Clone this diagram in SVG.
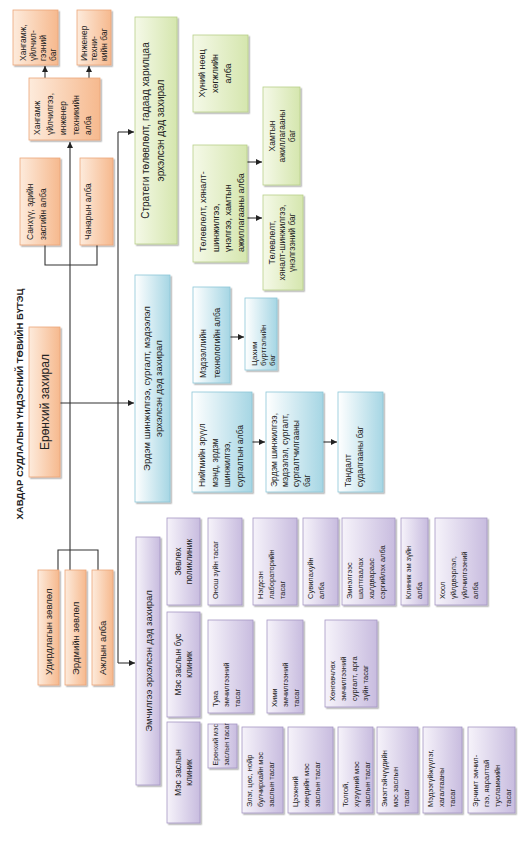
<svg xmlns="http://www.w3.org/2000/svg" width="525" height="842" viewBox="0 0 525 842">
<defs>
<linearGradient id="go" x1="0" y1="0" x2="1" y2="0"><stop offset="0" stop-color="#fdebdc"/><stop offset="1" stop-color="#f6b98e"/></linearGradient>
<linearGradient id="gg" x1="0" y1="0" x2="1" y2="0"><stop offset="0" stop-color="#f5f9e8"/><stop offset="1" stop-color="#d5e6ae"/></linearGradient>
<linearGradient id="gb" x1="0" y1="0" x2="1" y2="0"><stop offset="0" stop-color="#ffffff"/><stop offset="1" stop-color="#a6d6e4"/></linearGradient>
<linearGradient id="gp" x1="0" y1="0" x2="1" y2="0"><stop offset="0" stop-color="#f6f3fa"/><stop offset="1" stop-color="#c8bcdf"/></linearGradient>
<filter id="sh" x="-20%" y="-10%" width="140%" height="130%"><feDropShadow dx="1.5" dy="1.5" stdDeviation="0.7" flood-color="#000" flood-opacity="0.3"/></filter>
<marker id="ah" viewBox="0 0 6 6" markerWidth="6" markerHeight="6" refX="6" refY="3" orient="auto" markerUnits="userSpaceOnUse"><path d="M0,0 L6,3 L0,6 z" fill="#222"/></marker>
</defs>
<style>
text{font-family:"Liberation Sans",Arial,sans-serif;fill:#222}
.o rect{fill:url(#go);stroke:#eba579;stroke-width:0.8;filter:url(#sh)}
.g rect{fill:url(#gg);stroke:#b8cf89;stroke-width:0.8;filter:url(#sh)}
.b rect{fill:url(#gb);stroke:#8cc5d7;stroke-width:0.8;filter:url(#sh)}
.p rect{fill:url(#gp);stroke:#a597c4;stroke-width:0.8;filter:url(#sh)}
.f7{font-size:7px}.f75{font-size:7.5px}.f8{font-size:8px}.f85{font-size:8.5px}.f9{font-size:9px}.f95{font-size:9.5px}.f10{font-size:10px}.f12{font-size:12px}
.m{text-anchor:middle}
.c line,.c path{stroke:#333;stroke-width:1.1;fill:none}
.a{marker-end:url(#ah)}
</style>
<rect width="525" height="842" fill="#fff"/>
<text id="title" transform="translate(23,404) rotate(-90)" class="m" style="font-size:9.5px;font-weight:bold">ХАВДАР СУДЛАЛЫН ҮНДЭСНИЙ ТӨВИЙН БҮТЭЦ</text>

<g id="connectors" class="c">
<path d="M70,570 V142" class="a"/>
<path d="M60,403 H134" class="a"/>
<path d="M118,132 V663"/>
<path d="M118,132 H134" class="a"/>
<path d="M118,663 H135" class="a"/>
<path d="M45,245 V265 H97 V245"/>
<path d="M58,570 V550 H98 V570"/>
<path d="M45,78 V66" class="a"/>
<path d="M89,78 V66" class="a"/>
<path d="M247,162 H262" class="a"/>
<path d="M247,218 H262" class="a"/>
<path d="M230,337 H244" class="a"/>
<path d="M252,442 H265" class="a"/>
<path d="M323,442 H337" class="a"/>
</g>

<g id="n-supply-team" class="o"><rect x="13" y="10" width="45" height="55"/><text transform="translate(13,65) rotate(-90)" class="f85"><tspan x="4" y="13">Хангамж,</tspan><tspan x="4" y="23">үйлчил-</tspan><tspan x="4" y="33">гээний</tspan><tspan x="4" y="43">баг</tspan></text></g>
<g id="n-eng-team" class="o"><rect x="77" y="10" width="34" height="55"/><text transform="translate(77,65) rotate(-90)" class="f85"><tspan x="4" y="10">Инженер</tspan><tspan x="4" y="20">техни-</tspan><tspan x="4" y="30">кийн баг</tspan></text></g>
<g id="n-supply-dept" class="o"><rect x="29" y="78" width="71" height="62"/><text transform="translate(29,140) rotate(-90)" class="f85"><tspan x="5" y="11">Хангамж</tspan><tspan x="5" y="24">үйлчилгээ,</tspan><tspan x="5" y="37">инженер</tspan><tspan x="5" y="49.5">техникийн</tspan><tspan x="5" y="62">алба</tspan></text></g>
<g id="n-finance" class="o"><rect x="20" y="158" width="40" height="87"/><text transform="translate(20,245) rotate(-90)" class="f85"><tspan x="5" y="13">Санхүү, эдийн</tspan><tspan x="5" y="26">засгийн  алба</tspan></text></g>
<g id="n-quality" class="o"><rect x="80" y="158" width="33" height="87"/><text transform="translate(80,245) rotate(-90)" class="f85"><tspan x="5" y="11">Чанарын алба</tspan></text></g>
<g id="n-general-director" class="o"><rect x="29" y="327" width="31" height="150"/><text transform="translate(29,477) rotate(-90)" class="f12 m"><tspan x="75" y="20">Ерөнхий захирал</tspan></text></g>
<g id="n-board" class="o"><rect x="38" y="570" width="21" height="115"/><text transform="translate(38,685) rotate(-90)" class="f95"><tspan x="10" y="14">Удирдлагын зөвлөл</tspan></text></g>
<g id="n-sci-council" class="o"><rect x="65" y="570" width="21" height="115"/><text transform="translate(65,685) rotate(-90)" class="f95"><tspan x="10" y="14">Эрдмийн зөвлөл</tspan></text></g>
<g id="n-office" class="o"><rect x="92" y="570" width="21" height="115"/><text transform="translate(92,685) rotate(-90)" class="f95"><tspan x="10" y="14">Ажлын алба</tspan></text></g>

<g id="n-strategy-deputy" class="g"><rect x="135" y="17" width="42" height="227"/><text transform="translate(135,244) rotate(-90)" class="f10 m"><tspan x="113.5" y="14">Стратеги төлөвлөлт, гадаад харилцаа</tspan><tspan x="113.5" y="28.5">эрхэлсэн дэд захирал</tspan></text></g>
<g id="n-hr" class="g"><rect x="193" y="35" width="55" height="77"/><text transform="translate(193,112) rotate(-90)" class="f9 m"><tspan x="38.5" y="12">Хүний нөөц</tspan><tspan x="38.5" y="25">хөгжлийн</tspan><tspan x="38.5" y="38">алба</tspan></text></g>
<g id="n-planning-dept" class="g"><rect x="193" y="145" width="54" height="117"/><text transform="translate(193,262) rotate(-90)" class="f9"><tspan x="10" y="13">Төлөвлөлт, хяналт-</tspan><tspan x="10" y="25.5">шинжилгээ,</tspan><tspan x="10" y="38">үнэлгээ, хамтын</tspan><tspan x="10" y="50.5">ажиллагааны  алба</tspan></text></g>
<g id="n-coop-team" class="g"><rect x="263" y="87" width="37" height="98"/><text transform="translate(263,185) rotate(-90)" class="f85 m"><tspan x="49" y="12">Хамтын</tspan><tspan x="49" y="22">ажиллагааны</tspan><tspan x="49" y="32">баг</tspan></text></g>
<g id="n-planning-team" class="g"><rect x="263" y="195" width="40" height="95"/><text transform="translate(263,290) rotate(-90)" class="f85 m"><tspan x="47.5" y="12">Төлөвлөлт,</tspan><tspan x="47.5" y="22">хяналт-шинжилгээ,</tspan><tspan x="47.5" y="32">үнэлгээний баг</tspan></text></g>

<g id="n-science-deputy" class="b"><rect x="135" y="275" width="35" height="227"/><text transform="translate(135,502) rotate(-90)" class="f95 m"><tspan x="113.5" y="15">Эрдэм шинжилгээ, сургалт, мэдээлэл</tspan><tspan x="113.5" y="26.5">эрхэлсэн дэд захирал</tspan></text></g>
<g id="n-it" class="b"><rect x="193" y="287" width="37" height="96"/><text transform="translate(193,383) rotate(-90)" class="f85"><tspan x="5" y="13">Мэдээллийн</tspan><tspan x="5" y="27">технологийн алба</tspan></text></g>
<g id="n-ereg" class="b"><rect x="245" y="298" width="32" height="72"/><text transform="translate(245,370) rotate(-90)" class="f8"><tspan x="4" y="12">Цахим</tspan><tspan x="4" y="21">бүртгэлийн</tspan><tspan x="4" y="30">баг</tspan></text></g>
<g id="n-public-health" class="b"><rect x="192" y="392" width="60" height="100"/><text transform="translate(192,492) rotate(-90)" class="f85"><tspan x="5" y="13">Нийгмийн эрүүл</tspan><tspan x="5" y="25.5">мэнд, эрдэм</tspan><tspan x="5" y="38">шинжилгээ,</tspan><tspan x="5" y="50.5">сургалтын  алба</tspan></text></g>
<g id="n-research-team" class="b"><rect x="266" y="392" width="57" height="100"/><text transform="translate(266,492) rotate(-90)" class="f85"><tspan x="5" y="11">Эрдэм шинжилгээ,</tspan><tspan x="5" y="22">мэдээлэл, сургалт,</tspan><tspan x="5" y="33">сургалтчилгааны</tspan><tspan x="5" y="44">баг</tspan></text></g>
<g id="n-surveillance" class="b"><rect x="338" y="392" width="45" height="100"/><text transform="translate(338,492) rotate(-90)" class="f85"><tspan x="5" y="13">Тандалт</tspan><tspan x="5" y="25">судалгааны баг</tspan></text></g>

<g id="n-treatment-deputy" class="p"><rect x="136" y="537" width="24" height="248"/><text transform="translate(136,785) rotate(-90)" class="f95 m"><tspan x="124" y="15.5">Эмчилгээ эрхэлсэн дэд захирал</tspan></text></g>
<g id="n-polyclinic" class="p"><rect x="167" y="518" width="33" height="87"/><text transform="translate(167,605) rotate(-90)" class="f85 m"><tspan x="43.5" y="14">Зөвлөх</tspan><tspan x="43.5" y="25">поликлиник</tspan></text></g>
<g id="n-nonsurg-clinic" class="p"><rect x="167" y="612" width="33" height="105"/><text transform="translate(167,717) rotate(-90)" class="f85 m"><tspan x="52.5" y="14">Мэс заслын бус</tspan><tspan x="52.5" y="25">клиник</tspan></text></g>
<g id="n-surg-clinic" class="p"><rect x="167" y="722" width="33" height="101"/><text transform="translate(167,823) rotate(-90)" class="f85 m"><tspan x="50.5" y="14">Мэс заслын</tspan><tspan x="50.5" y="25">клиник</tspan></text></g>

<g id="n-diagnostics" class="p"><rect x="208" y="518" width="34" height="87"/><text transform="translate(208,605) rotate(-90)" class="f75"><tspan x="6" y="10">Онош зүйн тасаг</tspan></text></g>
<g id="n-lab" class="p"><rect x="253" y="518" width="44" height="87"/><text transform="translate(253,605) rotate(-90)" class="f75"><tspan x="6" y="10">Нэгдсэн</tspan><tspan x="6" y="21">лабораторийн</tspan><tspan x="6" y="32">тасаг</tspan></text></g>
<g id="n-nursing" class="p"><rect x="303" y="518" width="35" height="87"/><text transform="translate(303,605) rotate(-90)" class="f75"><tspan x="6" y="10">Сувилахуйн</tspan><tspan x="6" y="21">алба</tspan></text></g>
<g id="n-infection" class="p"><rect x="342" y="518" width="53" height="87"/><text transform="translate(342,605) rotate(-90)" class="f75"><tspan x="6" y="10">Эмнэлгээс</tspan><tspan x="6" y="21">шалтгаалах</tspan><tspan x="6" y="32">халдвараас</tspan><tspan x="6" y="43">сэргийлэх алба</tspan></text></g>
<g id="n-pharmacy" class="p"><rect x="401" y="518" width="27" height="87"/><text transform="translate(401,605) rotate(-90)" class="f75"><tspan x="6" y="10">Клиник  эм зүйн</tspan><tspan x="6" y="21">алба</tspan></text></g>
<g id="n-food" class="p"><rect x="435" y="518" width="52" height="87"/><text transform="translate(435,605) rotate(-90)" class="f75"><tspan x="6" y="10">Хоол</tspan><tspan x="6" y="21">үйлдвэрлэл,</tspan><tspan x="6" y="32">үйлчилгээний</tspan><tspan x="6" y="43">алба</tspan></text></g>
<g id="n-radiation" class="p"><rect x="208" y="620" width="45" height="93"/><text transform="translate(208,713) rotate(-90)" class="f75"><tspan x="6" y="10">Туяа</tspan><tspan x="6" y="21">эмчилгээний</tspan><tspan x="6" y="32">тасаг</tspan></text></g>
<g id="n-chemo" class="p"><rect x="267" y="620" width="36" height="93"/><text transform="translate(267,713) rotate(-90)" class="f75"><tspan x="6" y="10">Хими</tspan><tspan x="6" y="21">эмчилгээний</tspan><tspan x="6" y="32">тасаг</tspan></text></g>
<g id="n-palliative" class="p"><rect x="325" y="620" width="52" height="87"/><text transform="translate(325,707) rotate(-90)" class="f75"><tspan x="6" y="10">Хөнгөвчлөх</tspan><tspan x="6" y="21">эмчилгээний</tspan><tspan x="6" y="32">сургалт, арга</tspan><tspan x="6" y="43">зүйн тасаг</tspan></text></g>
<g id="n-gen-surgery" class="p"><rect x="208" y="724" width="29" height="44"/><text transform="translate(208,768) rotate(-90)" class="f7"><tspan x="2.5" y="10">Ерөнхий мэс</tspan><tspan x="2.5" y="20.5">заслын тасаг</tspan></text></g>
<g id="n-liver" class="p"><rect x="242" y="727" width="41" height="86"/><text transform="translate(242,813) rotate(-90)" class="f75"><tspan x="6" y="10">Элэг, цөс, нойр</tspan><tspan x="6" y="21">булчирхайн мэс</tspan><tspan x="6" y="32">заслын тасаг</tspan></text></g>
<g id="n-thoracic" class="p"><rect x="288" y="727" width="45" height="86"/><text transform="translate(288,813) rotate(-90)" class="f75"><tspan x="6" y="10">Цээжний</tspan><tspan x="6" y="21">хөндийн мэс</tspan><tspan x="6" y="32">заслын тасаг</tspan></text></g>
<g id="n-head-neck" class="p"><rect x="338" y="727" width="35" height="86"/><text transform="translate(338,813) rotate(-90)" class="f75"><tspan x="6" y="10">Толгой,</tspan><tspan x="6" y="21">хүзүүний мэс</tspan><tspan x="6" y="32">заслын  тасаг</tspan></text></g>
<g id="n-gyn" class="p"><rect x="377" y="727" width="41" height="86"/><text transform="translate(377,813) rotate(-90)" class="f75"><tspan x="6" y="10">Эмэгтэйчүүдийн</tspan><tspan x="6" y="21">мэс заслын</tspan><tspan x="6" y="32">тасаг</tspan></text></g>
<g id="n-anesthesia" class="p"><rect x="423" y="727" width="39" height="86"/><text transform="translate(423,813) rotate(-90)" class="f75"><tspan x="6" y="10">Мэдээгүйжүүлэг,</tspan><tspan x="6" y="21">хагалгааны</tspan><tspan x="6" y="32">тасаг</tspan></text></g>
<g id="n-icu" class="p"><rect x="468" y="727" width="47" height="86"/><text transform="translate(468,813) rotate(-90)" class="f75"><tspan x="6" y="10">Эрчимт эмчил-</tspan><tspan x="6" y="21">гээ, яаралтай</tspan><tspan x="6" y="32">тусламжийн</tspan><tspan x="6" y="43">тасаг</tspan></text></g>
</svg>
